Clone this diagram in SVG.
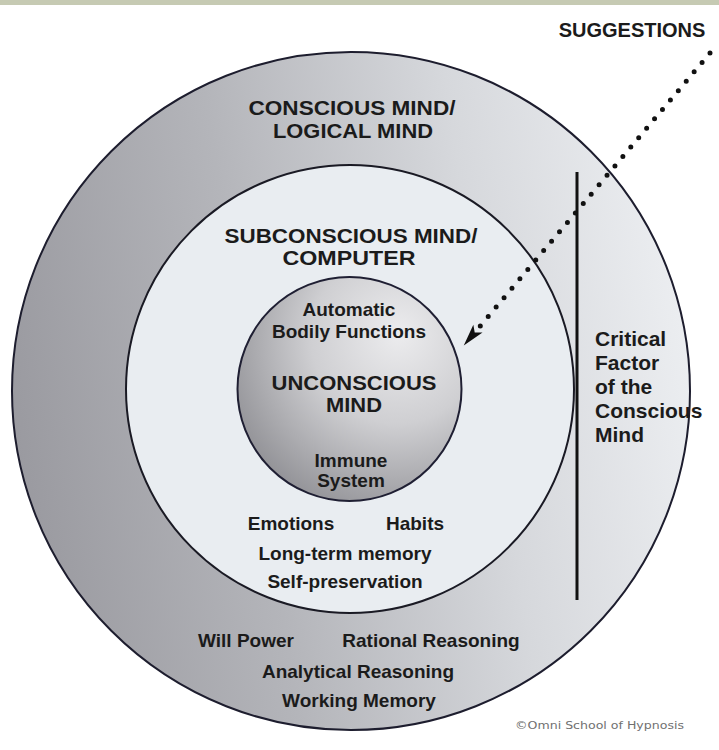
<svg xmlns="http://www.w3.org/2000/svg" width="719" height="750" viewBox="0 0 719 750">
<defs>
<linearGradient id="outerGrad" x1="0" y1="0.55" x2="1" y2="0.4">
<stop offset="0" stop-color="#9a9aa0"/>
<stop offset="0.35" stop-color="#b4b5ba"/>
<stop offset="0.7" stop-color="#d6d8dc"/>
<stop offset="1" stop-color="#eceef1"/>
</linearGradient>
<radialGradient id="innerGrad" cx="0.7" cy="0.3" r="0.85" fx="0.72" fy="0.25">
<stop offset="0" stop-color="#ececee"/>
<stop offset="0.45" stop-color="#cfcfd2"/>
<stop offset="1" stop-color="#8a8a8f"/>
</radialGradient>
<marker id="arrow" viewBox="-1 -7 25 14" markerWidth="25" markerHeight="14" refX="3" refY="0" orient="auto" markerUnits="userSpaceOnUse">
<path d="M0,-6 L22,0 L0,6 L5,0 Z" fill="#111"/>
</marker>
<style>
.lbl{font-family:"Liberation Sans",Arial,sans-serif;font-weight:bold;fill:#1b1b1b;text-anchor:middle}
.big{font-size:20px}
.sm{font-size:19px}
.cf{font-family:"Liberation Sans",Arial,sans-serif;font-weight:bold;fill:#1b1b1b;font-size:21px}
.ring{stroke-width:2}
</style>
</defs>
<rect x="0" y="0" width="719" height="750" fill="#ffffff"/>
<rect x="0" y="0" width="719" height="5" fill="#c6cab3"/>

<g id="conscious-mind">
<circle class="ring" cx="351" cy="391" r="339" fill="url(#outerGrad)" stroke="#1d1d2e"/>
<text class="lbl big" x="352" y="115" textLength="207" lengthAdjust="spacingAndGlyphs">CONSCIOUS MIND/</text>
<text class="lbl big" x="353" y="138" textLength="160" lengthAdjust="spacingAndGlyphs">LOGICAL MIND</text>
<text class="lbl sm" x="246" y="647">Will Power</text>
<text class="lbl sm" x="431" y="647">Rational Reasoning</text>
<text class="lbl sm" x="358" y="678">Analytical Reasoning</text>
<text class="lbl sm" x="359" y="707">Working Memory</text>
</g>

<g id="subconscious-mind">
<circle class="ring" cx="350" cy="389" r="224" fill="#e9edf1" stroke="#1a1a24" stroke-width="2.5"/>
<text class="lbl big" x="351" y="243" textLength="253" lengthAdjust="spacingAndGlyphs">SUBCONSCIOUS MIND/</text>
<text class="lbl big" x="349" y="265" textLength="133" lengthAdjust="spacingAndGlyphs">COMPUTER</text>
<text class="lbl sm" x="291" y="530">Emotions</text>
<text class="lbl sm" x="415" y="530">Habits</text>
<text class="lbl sm" x="345" y="560">Long-term memory</text>
<text class="lbl sm" x="345" y="588">Self-preservation</text>
</g>

<g id="unconscious-mind">
<circle class="ring" cx="349.5" cy="389" r="112" fill="url(#innerGrad)" stroke="#1f1f33"/>
<text class="lbl sm" x="349" y="316">Automatic</text>
<text class="lbl sm" x="349" y="338">Bodily Functions</text>
<text class="lbl big" x="354" y="390" textLength="165" lengthAdjust="spacingAndGlyphs">UNCONSCIOUS</text>
<text class="lbl big" x="354" y="412" textLength="56" lengthAdjust="spacingAndGlyphs">MIND</text>
<text class="lbl sm" x="351" y="467">Immune</text>
<text class="lbl sm" x="351" y="487">System</text>
</g>

<g id="critical-factor">
<line x1="577" y1="172" x2="577" y2="600" stroke="#111" stroke-width="3"/>
<text class="cf" x="595" y="346">Critical</text>
<text class="cf" x="595" y="370">Factor</text>
<text class="cf" x="595" y="394">of the</text>
<text class="cf" x="595" y="418">Conscious</text>
<text class="cf" x="595" y="442">Mind</text>
</g>

<g id="suggestions">
<text class="lbl" x="632" y="37" font-size="20">SUGGESTIONS</text>
</g>

<g id="connectors">
<line x1="710" y1="53" x2="476" y2="331" stroke="#111" stroke-width="5" stroke-linecap="round" stroke-dasharray="0 12.3" marker-end="url(#arrow)"/>
</g>

<text x="515" y="729" font-family="DejaVu Sans, sans-serif" font-size="10" fill="#707070" textLength="169" lengthAdjust="spacingAndGlyphs">©Omni School of Hypnosis</text>
</svg>
